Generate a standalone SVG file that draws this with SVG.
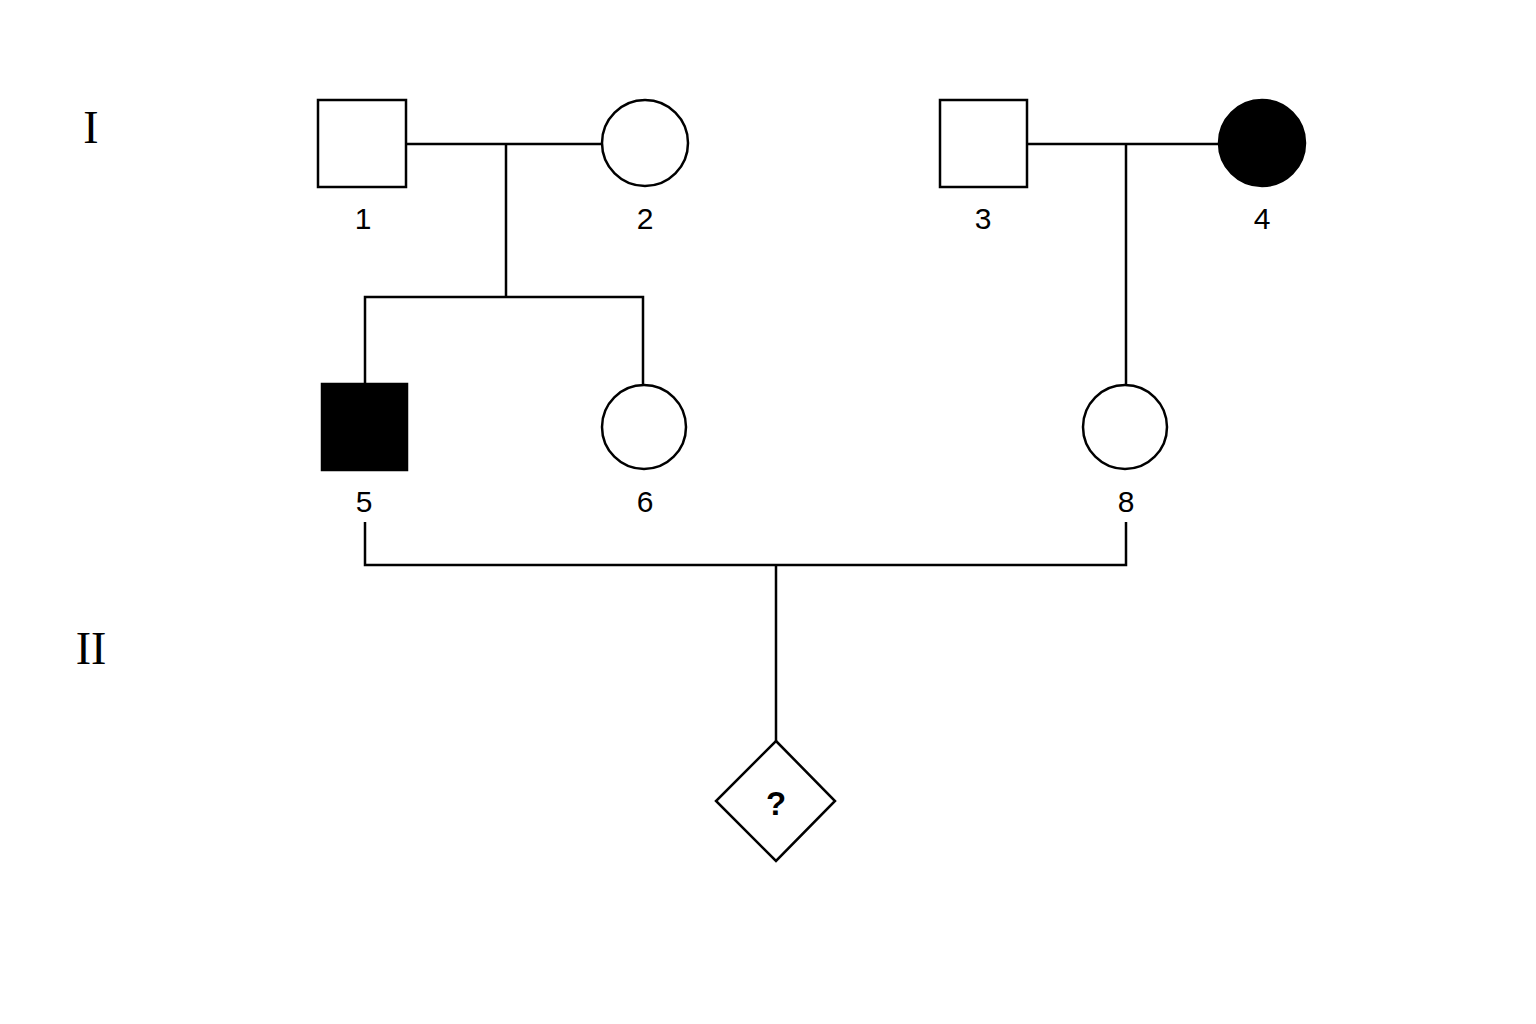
<svg xmlns="http://www.w3.org/2000/svg" width="1536" height="1024" viewBox="0 0 1536 1024">
<style>
.s{fill:#fff;stroke:#000;stroke-width:2.5}
.f{fill:#000;stroke:#000;stroke-width:2.5}
.l{fill:none;stroke:#000;stroke-width:2.5}
.t{font-family:"Liberation Sans",Arial,sans-serif;font-size:30px;text-anchor:middle;fill:#000}
.r{font-family:"Liberation Serif","Times New Roman",serif;font-size:46px;text-anchor:middle;fill:#000}
</style>
<rect width="1536" height="1024" fill="#fff"/>
<text class="r" x="91" y="143">I</text>
<text class="r" x="91" y="664">II</text>
<g id="connectors">
<path class="l" d="M406 144H602M506 144V297M365 384V297H643V384"/>
<path class="l" d="M1027 144H1219M1126 144V384"/>
<path class="l" d="M365 522V565H1126V522M776 565V741"/>
</g>
<g id="n1"><rect class="s" x="318" y="100" width="88" height="87"/><text class="t" x="363" y="229">1</text></g>
<g id="n2"><circle class="s" cx="645" cy="143" r="43"/><text class="t" x="645" y="229">2</text></g>
<g id="n3"><rect class="s" x="940" y="100" width="87" height="87"/><text class="t" x="983" y="229">3</text></g>
<g id="n4"><circle class="f" cx="1262" cy="143" r="43"/><text class="t" x="1262" y="229">4</text></g>
<g id="n5"><rect class="f" x="322" y="384" width="85" height="86"/><text class="t" x="364" y="512">5</text></g>
<g id="n6"><circle class="s" cx="644" cy="427" r="42"/><text class="t" x="645" y="512">6</text></g>
<g id="n8"><circle class="s" cx="1125" cy="427" r="42"/><text class="t" x="1126" y="512">8</text></g>
<g id="child"><polygon class="s" points="776,741 835,801 776,861 716,801"/><text class="t" x="776" y="815" style="font-size:33px;font-weight:bold">?</text></g>
</svg>
